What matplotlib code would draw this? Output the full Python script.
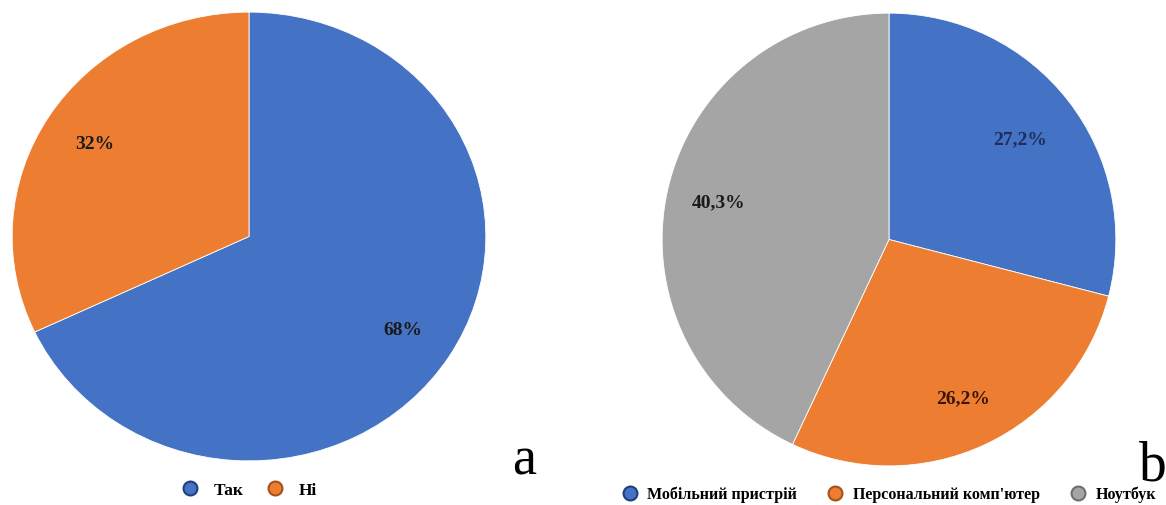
import numpy as np
import matplotlib.pyplot as plt
from matplotlib.lines import Line2D

# left pie (a)
labels_a = ['Так', 'Ні']
values_a = [68, 32]
texts_a = ['68%', '32%']

# right pie (b)
labels_b = ['Мобільний пристрій', 'Персональний комп\'ютер', 'Ноутбук']
values_b = [27.2, 26.2, 40.3]
texts_b = ['27,2%', '26,2%', '40,3%']

colors = ['#4472C4', '#ED7D31', '#A5A5A5']
edge_colors = ['#203f7a', '#a4511a', '#6f6f6f']

plt.rcParams['font.family'] = ['Liberation Serif', 'DejaVu Serif']

fig = plt.figure(figsize=(11.66, 5.06), dpi=100)
W, H = 1166, 506


def px_axes(x0, y0, x1, y1):
    return fig.add_axes([x0 / W, 1 - y1 / H, (x1 - x0) / W, (y1 - y0) / H])


def draw_pie(ax, values, texts, cols, dist, size):
    wedges, labels = ax.pie(values, colors=cols, startangle=90, counterclock=False,
                            labels=texts, labeldistance=dist,
                            wedgeprops=dict(edgecolor='white', linewidth=0.6))
    for t in labels:
        t.set_horizontalalignment('center')
        t.set_verticalalignment('center')
        t.set_fontsize(size)
        t.set_fontweight('bold')
        t.set_color('#1a1a1a')
    ax.set_aspect('auto')
    ax.set_xlim(-1.005, 1.005)
    ax.set_ylim(-1.005, 1.005)
    return wedges, labels


ax1 = px_axes(11, 12, 487, 463)
draw_pie(ax1, values_a, texts_a, colors[:2], 0.77, 14)

ax2 = px_axes(661, 13, 1117, 468)
w2, l2 = draw_pie(ax2, values_b, texts_b, colors, 0.77, 14)
# the first label sits a bit closer to the centre
mid = np.deg2rad((w2[0].theta1 + w2[0].theta2) / 2)
l2[0].set_position((0.73 * np.cos(mid), 0.73 * np.sin(mid)))
l2[0].set_color('#1f2d5a')
l2[1].set_color('#3a1505')

fig.text(524 / W, 1 - 475 / H, 'a', fontsize=39, ha='center', va='baseline')
fig.text(1153 / W, 1 - 481 / H, 'b', fontsize=40, ha='center', va='baseline')


def handles(cols, edges):
    return [Line2D([], [], linestyle='none', marker='o', markersize=10,
                   markerfacecolor=c, markeredgecolor=e, markeredgewidth=1.5)
            for c, e in zip(cols, edges)]


fig.legend(handles(colors[:2], edge_colors[:2]), labels_a, loc='center',
           bbox_to_anchor=(249 / W, 1 - 491 / H), ncol=2, frameon=False,
           prop=dict(size=12.5, weight='bold'), handletextpad=0.85, columnspacing=1.3,
           handlelength=1.0)
fig.legend(handles(colors, edge_colors), labels_b, loc='center',
           bbox_to_anchor=(889 / W, 1 - 495 / H), ncol=3, frameon=False,
           prop=dict(size=11.5, weight='bold'), handletextpad=0.6, columnspacing=1.9,
           handlelength=1.0)

fig.savefig('out.png', dpi=100)
